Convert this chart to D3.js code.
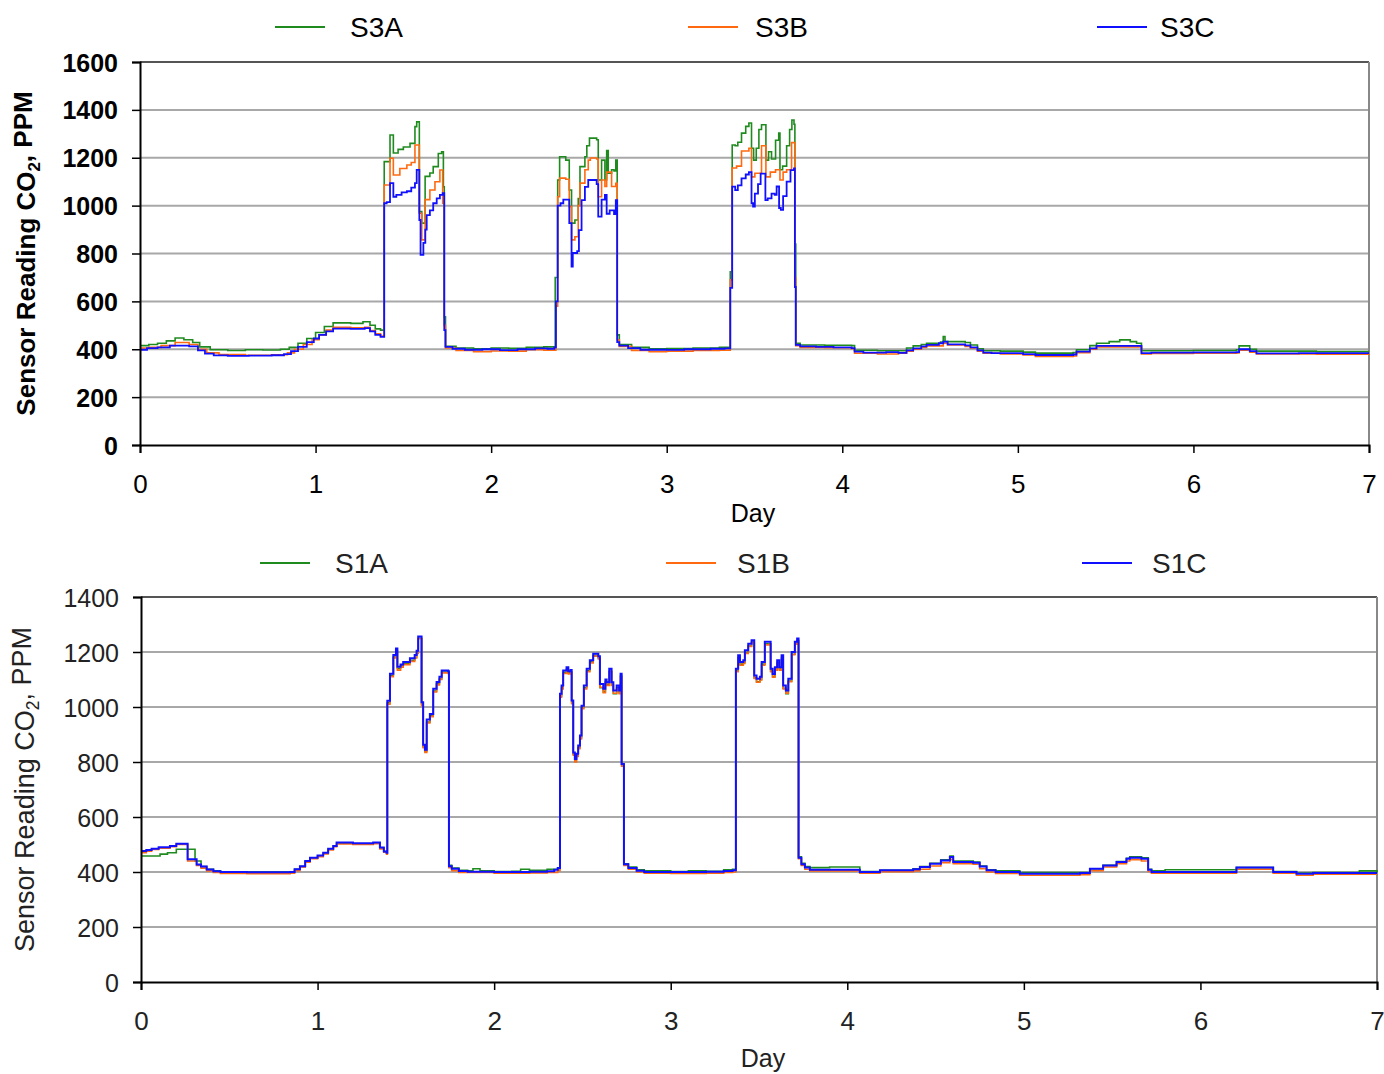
<!DOCTYPE html>
<html>
<head>
<meta charset="utf-8">
<script src="https://cdn.jsdelivr.net/npm/d3@7"></script>
<style>
  body { margin: 0; background: #fff; }
  svg { display: block; font-family: "Liberation Sans", Arial, sans-serif; }
</style>
</head>
<body>
<svg id="chart" width="1384" height="1074"></svg>
<script>
// x values are days, y values are CO2 readings in ppm; each point holds until the next one
const dayTicks = [0, 1, 2, 3, 4, 5, 6, 7];
const topPpmTicks = [0, 200, 400, 600, 800, 1000, 1200, 1400, 1600];
const bottomPpmTicks = [0, 200, 400, 600, 800, 1000, 1200, 1400];
const topNames = ["S3A", "S3B", "S3C"];
const bottomNames = ["S1A", "S1B", "S1C"];

const s3a = [
  [0,415],[0.05,420],[0.1,425],[0.15,435],[0.2,447],[0.25,440],[0.3,428],[0.34,410],[0.4,398],[0.5,395],[0.6,398],[0.7,397],[0.8,400],[0.85,408],[0.9,425],[0.95,445],[1.0,470],[1.05,495],[1.1,510],[1.2,508],[1.27,515],[1.31,500],[1.34,485],[1.37,480],
  [1.391,1184],[1.424,1295],[1.443,1220],[1.47,1235],[1.5,1245],[1.538,1260],[1.566,1330],[1.576,1350],[1.591,975],[1.605,927],[1.624,1122],[1.651,1136],[1.67,1163],[1.699,1218],[1.718,1225],[1.728,1079],[1.733,536],[1.74,412],
  [1.8,405],[1.9,402],[2.0,405],[2.1,404],[2.2,408],[2.3,410],[2.365,700],[2.379,1107],[2.39,1204],[2.425,1190],[2.445,1065],[2.458,927],[2.477,940],[2.496,1030],[2.506,1163],[2.534,1204],[2.545,1250],[2.56,1282],[2.601,1275],[2.61,1107],[2.629,1190],[2.648,1107],[2.658,1230],[2.667,1135],[2.686,1150],[2.7,1145],[2.71,1190],[2.718,460],[2.73,420],
  [2.8,408],[2.9,402],[3.0,403],[3.15,405],[3.3,408],[3.362,724],[3.373,1253],[3.39,1250],[3.405,1265],[3.426,1303],[3.45,1331],[3.468,1345],[3.483,1240],[3.495,1190],[3.51,1240],[3.525,1318],[3.54,1338],[3.565,1190],[3.58,1225],[3.597,1195],[3.62,1273],[3.638,1303],[3.645,1150],[3.66,1165],[3.683,1250],[3.7,1318],[3.713,1358],[3.725,1340],[3.73,840],[3.735,425],
  [3.76,418],[3.9,417],[4.053,415],[4.07,396],[4.2,394],[4.32,394],[4.366,405],[4.404,414],[4.45,420],[4.48,425],[4.56,430],[4.575,453],[4.585,432],[4.7,428],[4.73,418],[4.77,402],[4.803,394],[4.9,392],[5.03,388],[5.1,384],[5.315,386],[5.334,398],[5.41,415],[5.448,425],[5.52,432],[5.58,439],[5.64,432],[5.676,425],[5.704,394],[5.76,394],[6.0,395],[6.245,398],[6.26,414],[6.321,400],[6.359,392],[6.7,390],[7,390]
];
const s3b = [
  [0,405],[0.05,408],[0.12,415],[0.2,428],[0.28,420],[0.33,400],[0.38,385],[0.45,378],[0.6,375],[0.75,377],[0.84,385],[0.88,400],[0.93,420],[0.98,440],[1.02,460],[1.06,480],[1.1,492],[1.2,490],[1.28,492],[1.31,478],[1.34,465],[1.37,455],
  [1.391,1086],[1.424,1198],[1.443,1128],[1.48,1155],[1.52,1170],[1.545,1180],[1.566,1253],[1.591,968],[1.605,857],[1.624,1025],[1.651,1065],[1.68,1100],[1.708,1149],[1.724,1010],[1.733,500],[1.74,405],
  [1.8,395],[1.9,390],[2.0,393],[2.1,392],[2.2,398],[2.3,396],[2.369,580],[2.379,1037],[2.39,1115],[2.425,1110],[2.445,996],[2.458,857],[2.477,870],[2.496,1000],[2.506,1094],[2.534,1150],[2.553,1190],[2.565,1199],[2.601,1195],[2.61,1037],[2.629,1107],[2.648,1080],[2.658,1140],[2.686,1080],[2.71,1093],[2.718,440],[2.73,412],
  [2.8,395],[2.9,390],[3.0,392],[3.15,395],[3.3,396],[3.362,690],[3.373,1157],[3.398,1165],[3.426,1228],[3.468,1240],[3.483,1120],[3.502,1135],[3.54,1250],[3.565,1120],[3.59,1140],[3.62,1150],[3.645,1107],[3.663,1140],[3.683,1150],[3.711,1263],[3.73,700],[3.735,415],
  [3.76,408],[3.9,406],[4.053,402],[4.07,383],[4.2,380],[4.32,383],[4.366,392],[4.404,400],[4.45,408],[4.48,414],[4.575,425],[4.6,418],[4.7,412],[4.73,405],[4.77,392],[4.803,383],[4.9,380],[5.03,376],[5.1,370],[5.315,372],[5.334,386],[5.41,400],[5.448,410],[5.676,410],[5.704,380],[5.76,382],[6.0,383],[6.245,385],[6.26,396],[6.321,388],[6.359,380],[6.7,379],[7,380]
];
const s3c = [
  [0,398],[0.04,405],[0.1,408],[0.17,415],[0.28,412],[0.33,395],[0.37,382],[0.42,374],[0.5,372],[0.62,373],[0.75,375],[0.82,380],[0.86,392],[0.9,410],[0.95,430],[0.99,445],[1.02,460],[1.06,475],[1.1,486],[1.2,485],[1.28,488],[1.31,475],[1.34,460],[1.37,452],
  [1.391,1010],[1.405,1015],[1.424,1094],[1.443,1037],[1.46,1045],[1.49,1055],[1.52,1060],[1.545,1075],[1.566,1094],[1.576,1149],[1.591,940],[1.598,794],[1.614,844],[1.625,900],[1.633,960],[1.651,980],[1.67,1010],[1.69,1030],[1.708,1045],[1.724,1052],[1.733,480],[1.74,410],
  [1.78,402],[1.85,398],[1.95,400],[2.05,396],[2.15,400],[2.25,404],[2.32,402],[2.36,408],[2.369,600],[2.379,1000],[2.395,1010],[2.411,1025],[2.445,927],[2.458,745],[2.465,802],[2.49,810],[2.5,898],[2.515,1023],[2.534,1078],[2.553,1107],[2.601,1090],[2.61,954],[2.629,1025],[2.648,1045],[2.658,966],[2.675,980],[2.7,965],[2.71,1023],[2.718,430],[2.73,415],
  [2.78,405],[2.85,398],[3.0,397],[3.1,400],[3.25,402],[3.33,404],[3.362,656],[3.373,1079],[3.39,1065],[3.405,1085],[3.426,1114],[3.45,1130],[3.468,1140],[3.483,1010],[3.492,996],[3.502,1050],[3.52,1090],[3.535,1134],[3.562,1023],[3.575,1030],[3.597,1050],[3.615,1045],[3.626,1080],[3.64,990],[3.65,982],[3.663,1040],[3.683,1100],[3.705,1148],[3.725,1155],[3.73,660],[3.735,418],
  [3.76,412],[3.85,410],[3.95,408],[4.053,405],[4.07,390],[4.12,386],[4.25,388],[4.32,385],[4.366,395],[4.404,404],[4.45,412],[4.48,418],[4.55,425],[4.575,432],[4.6,420],[4.7,416],[4.73,408],[4.77,395],[4.803,386],[4.85,384],[5.03,380],[5.1,376],[5.315,378],[5.334,390],[5.41,404],[5.448,414],[5.676,414],[5.704,384],[5.76,386],[6.0,387],[6.245,388],[6.26,400],[6.321,392],[6.359,383],[6.6,384],[7,384]
];

const s1a = [
  [0,458],[0.108,465],[0.15,470],[0.2,483],[0.306,440],[0.34,420],[0.372,410],[0.41,404],[0.45,401],[0.6,400],[0.844,400],[0.87,410],[0.9,420],[0.93,438],[0.957,450],[1.0,458],[1.032,468],[1.06,483],[1.089,494],[1.108,505],[1.2,502],[1.315,505],[1.353,488],[1.375,474],[1.391,468],
  [1.395,1015],[1.41,1115],[1.429,1182],[1.444,1205],[1.452,1140],[1.47,1150],[1.485,1158],[1.523,1170],[1.55,1180],[1.561,1198],[1.57,1250],[1.589,1010],[1.598,855],[1.608,838],[1.618,945],[1.636,968],[1.655,1058],[1.674,1084],[1.69,1102],[1.703,1127],[1.74,1125],[1.744,424],
  [1.76,414],[1.8,406],[1.85,404],[1.88,412],[1.92,404],[2.0,402],[2.1,403],[2.15,410],[2.2,406],[2.3,410],[2.36,412],
  [2.373,1040],[2.382,1072],[2.391,1126],[2.41,1138],[2.42,1124],[2.433,1128],[2.439,1018],[2.448,828],[2.457,804],[2.466,822],[2.476,852],[2.486,888],[2.495,998],[2.508,1070],[2.524,1132],[2.542,1164],[2.561,1188],[2.59,1178],[2.599,1070],[2.618,1055],[2.63,1092],[2.637,1082],[2.652,1130],[2.665,1080],[2.675,1048],[2.694,1070],[2.708,1052],[2.716,1114],[2.722,790],[2.735,430],
  [2.76,418],[2.807,408],[2.85,404],[3.0,402],[3.1,404],[3.2,403],[3.3,408],[3.35,410],
  [3.369,1132],[3.382,1180],[3.392,1156],[3.411,1162],[3.42,1198],[3.439,1222],[3.458,1236],[3.473,1106],[3.486,1092],[3.505,1100],[3.515,1156],[3.533,1230],[3.558,1230],[3.566,1130],[3.577,1110],[3.59,1136],[3.603,1162],[3.615,1138],[3.628,1180],[3.637,1068],[3.652,1048],[3.666,1094],[3.685,1192],[3.703,1230],[3.716,1242],[3.724,455],
  [3.74,432],[3.76,420],[3.788,416],[3.9,418],[4.071,402],[4.185,406],[4.373,412],[4.411,420],[4.468,432],[4.53,444],[4.581,458],[4.6,440],[4.713,436],[4.75,422],[4.789,408],[4.84,404],[4.977,398],[5.317,398],[5.374,412],[5.449,424],[5.525,438],[5.581,450],[5.6,455],[5.666,452],[5.704,410],[5.723,404],[5.8,408],[6.0,408],[6.204,416],[6.412,402],[6.544,396],[6.638,398],[6.9,404],[7,398]
];
const s1b = [
  [0,470],[0.03,476],[0.06,482],[0.1,487],[0.164,492],[0.2,500],[0.264,440],[0.315,424],[0.34,414],[0.372,404],[0.41,398],[0.45,395],[0.6,394],[0.844,396],[0.87,405],[0.9,418],[0.93,436],[0.957,448],[1.0,456],[1.032,466],[1.06,480],[1.089,492],[1.108,502],[1.2,500],[1.315,503],[1.353,484],[1.375,472],[1.391,465],
  [1.395,1010],[1.41,1110],[1.429,1178],[1.444,1200],[1.452,1134],[1.47,1145],[1.485,1154],[1.523,1166],[1.55,1178],[1.561,1195],[1.57,1248],[1.589,1005],[1.598,852],[1.608,835],[1.618,942],[1.636,965],[1.655,1055],[1.674,1080],[1.69,1100],[1.703,1124],[1.74,1122],[1.744,416],
  [1.76,405],[1.8,398],[2.0,396],[2.2,397],[2.3,398],[2.36,405],
  [2.373,1036],[2.382,1066],[2.391,1122],[2.41,1135],[2.42,1120],[2.433,1125],[2.439,1012],[2.448,825],[2.457,800],[2.466,820],[2.476,848],[2.486,884],[2.495,994],[2.508,1066],[2.524,1128],[2.542,1160],[2.561,1185],[2.59,1175],[2.599,1072],[2.618,1052],[2.63,1090],[2.637,1078],[2.652,1128],[2.665,1078],[2.675,1050],[2.694,1066],[2.708,1048],[2.716,1110],[2.722,785],[2.735,424],
  [2.76,410],[2.807,400],[2.85,396],[3.0,395],[3.2,396],[3.3,398],[3.35,400],
  [3.369,1128],[3.382,1176],[3.392,1152],[3.411,1158],[3.42,1195],[3.439,1220],[3.458,1234],[3.473,1104],[3.486,1090],[3.505,1098],[3.515,1152],[3.533,1226],[3.558,1228],[3.566,1128],[3.577,1108],[3.59,1134],[3.603,1160],[3.615,1134],[3.628,1176],[3.637,1066],[3.652,1050],[3.666,1092],[3.685,1190],[3.703,1228],[3.716,1240],[3.724,448],
  [3.74,424],[3.76,410],[3.788,404],[4.071,396],[4.185,401],[4.373,404],[4.411,410],[4.468,422],[4.53,434],[4.581,446],[4.6,430],[4.713,428],[4.75,412],[4.789,400],[4.84,395],[4.977,388],[5.317,390],[5.374,405],[5.449,418],[5.525,430],[5.581,440],[5.6,445],[5.666,440],[5.704,402],[5.723,396],[6.204,410],[6.412,396],[6.544,388],[6.638,392],[7,392]
];
const s1c = [
  [0,476],[0.03,480],[0.06,485],[0.1,490],[0.164,495],[0.2,503],[0.264,446],[0.315,427],[0.34,420],[0.372,409],[0.41,403],[0.45,400],[0.6,399],[0.844,400],[0.87,410],[0.9,421],[0.93,440],[0.957,452],[1.0,460],[1.032,470],[1.06,485],[1.089,495],[1.108,507],[1.2,505],[1.315,507],[1.353,489],[1.375,475],[1.391,470],
  [1.395,1023],[1.41,1121],[1.429,1189],[1.444,1213],[1.452,1146],[1.47,1155],[1.485,1164],[1.523,1177],[1.55,1189],[1.561,1205],[1.57,1256],[1.589,1017],[1.598,863],[1.608,845],[1.618,955],[1.636,975],[1.655,1066],[1.674,1091],[1.69,1110],[1.703,1133],[1.74,1130],[1.744,421],
  [1.76,412],[1.8,404],[1.85,401],[2.0,400],[2.2,401],[2.3,403],[2.34,408],[2.36,415],
  [2.373,1048],[2.382,1078],[2.391,1133],[2.41,1145],[2.42,1130],[2.433,1135],[2.439,1024],[2.448,835],[2.457,811],[2.466,830],[2.476,860],[2.486,896],[2.495,1005],[2.508,1078],[2.524,1139],[2.542,1170],[2.561,1194],[2.59,1185],[2.599,1084],[2.618,1066],[2.63,1100],[2.637,1090],[2.652,1139],[2.665,1090],[2.675,1060],[2.694,1078],[2.708,1060],[2.716,1121],[2.722,793],[2.735,428],
  [2.76,415],[2.807,405],[2.85,400],[3.0,400],[3.2,401],[3.3,404],[3.35,406],
  [3.369,1139],[3.382,1188],[3.392,1164],[3.411,1170],[3.42,1206],[3.439,1230],[3.458,1243],[3.473,1115],[3.486,1103],[3.505,1110],[3.515,1164],[3.533,1237],[3.558,1237],[3.566,1139],[3.577,1120],[3.59,1145],[3.603,1170],[3.615,1145],[3.628,1188],[3.637,1078],[3.652,1060],[3.666,1103],[3.685,1200],[3.703,1237],[3.716,1249],[3.724,452],
  [3.74,428],[3.76,416],[3.788,408],[4.071,400],[4.185,406],[4.373,410],[4.411,418],[4.468,430],[4.53,442],[4.581,455],[4.6,436],[4.713,434],[4.75,420],[4.789,406],[4.84,400],[4.977,394],[5.317,396],[5.374,412],[5.449,424],[5.525,436],[5.581,448],[5.6,452],[5.666,448],[5.704,408],[5.723,400],[6.204,416],[6.412,400],[6.544,394],[6.638,396],[7,396]
];

const colors = ["#1f8b1f", "#ff6a10", "#1010ff"];
const svg = d3.select("#chart");

function drawPanel(p) {
  const x = d3.scaleLinear().domain([0, 7]).range([p.left, p.right]);
  const y = d3.scaleLinear().domain([0, p.yMax]).range([p.bottom, p.top]);
  const g = svg.append("g");

  // horizontal gridlines
  g.selectAll("line.grid")
    .data(p.yTicks.filter(v => v > 0 && v < p.yMax))
    .enter().append("line")
    .attr("x1", p.left).attr("x2", p.right)
    .attr("y1", d => y(d)).attr("y2", d => y(d))
    .attr("stroke", "#a8a8a8").attr("stroke-width", 2);

  // frame
  g.append("line").attr("x1", p.left).attr("x2", p.right).attr("y1", y(p.yMax)).attr("y2", y(p.yMax))
    .attr("stroke", "#555").attr("stroke-width", 2);
  g.append("line").attr("x1", p.right).attr("x2", p.right).attr("y1", p.top).attr("y2", p.bottom)
    .attr("stroke", "#888").attr("stroke-width", 2);

  const line = d3.line().x(d => x(d[0])).y(d => y(d[1])).curve(d3.curveStepAfter);
  p.series.forEach((s, i) => {
    g.append("path").datum(s)
      .attr("fill", "none")
      .attr("stroke", colors[i])
      .attr("stroke-width", p.widths[i])
      .attr("d", line);
  });

  const fmt = d3.format("d");
  const yAxis = g.append("g")
    .attr("transform", `translate(${p.left},0)`)
    .call(d3.axisLeft(y).tickValues(p.yTicks).tickFormat(fmt).tickSize(8).tickPadding(14));
  const xAxis = g.append("g")
    .attr("transform", `translate(0,${p.bottom})`)
    .call(d3.axisBottom(x).tickValues(dayTicks).tickFormat(fmt).tickSize(8).tickPadding(p.xPad));
  [yAxis, xAxis].forEach(a => {
    a.select(".domain").attr("stroke", "#000").attr("stroke-width", 2);
    a.selectAll(".tick line").attr("stroke", "#000").attr("stroke-width", 1.5);
    a.selectAll("text").attr("fill", p.textColor).style("font-size", "25px");
  });
  yAxis.selectAll("text").style("font-weight", p.weight).attr("dy", "0.36em");
  xAxis.selectAll("text").attr("dy", "0.71em").style("font-size", "26px");

  g.append("text")
    .attr("x", p.dayX).attr("y", p.dayY)
    .attr("text-anchor", "middle")
    .attr("fill", p.textColor)
    .style("font-size", "25px")
    .text("Day");

  const title = g.append("text")
    .attr("transform", `translate(${p.titleX},${(p.top + p.bottom) / 2 + p.titleShift}) rotate(-90)`)
    .attr("text-anchor", "middle")
    .attr("fill", p.textColor)
    .style("font-size", p.titleSize + "px")
    .style("font-weight", p.weight);
  title.append("tspan").text("Sensor Reading CO");
  title.append("tspan").attr("dy", "0.3em").style("font-size", (p.titleSize * 0.65) + "px").text("2");
  title.append("tspan").attr("dy", "-0.3em").text(", PPM");

  // legend
  p.names.forEach((name, i) => {
    const lx = p.legendX[i];
    g.append("line")
      .attr("x1", lx).attr("x2", lx + 50)
      .attr("y1", p.legendY).attr("y2", p.legendY)
      .attr("stroke", colors[i]).attr("stroke-width", 2);
    g.append("text")
      .attr("x", p.legendTextX[i]).attr("y", p.legendY + 10)
      .attr("fill", p.textColor)
      .style("font-size", "28px")
      .text(name);
  });
}

drawPanel({
  left: 140, right: 1369, top: 62, bottom: 445, yMax: 1600,
  yTicks: topPpmTicks, series: [s3a, s3b, s3c], widths: [1.6, 1.6, 1.8],
  names: topNames, legendX: [275, 688, 1097], legendTextX: [350, 755, 1160], legendY: 27,
  weight: "bold", textColor: "#000", xPad: 22,
  dayX: 753, dayY: 522, titleX: 35, titleShift: 0, titleSize: 26
});

drawPanel({
  left: 141, right: 1377, top: 597, bottom: 982, yMax: 1400,
  yTicks: bottomPpmTicks, series: [s1a, s1b, s1c], widths: [1.6, 1.6, 2],
  names: bottomNames, legendX: [260, 666, 1082], legendTextX: [335, 737, 1152], legendY: 563,
  weight: "normal", textColor: "#222", xPad: 22,
  dayX: 763, dayY: 1067, titleX: 34, titleShift: 0, titleSize: 27
});
</script>
</body>
</html>
